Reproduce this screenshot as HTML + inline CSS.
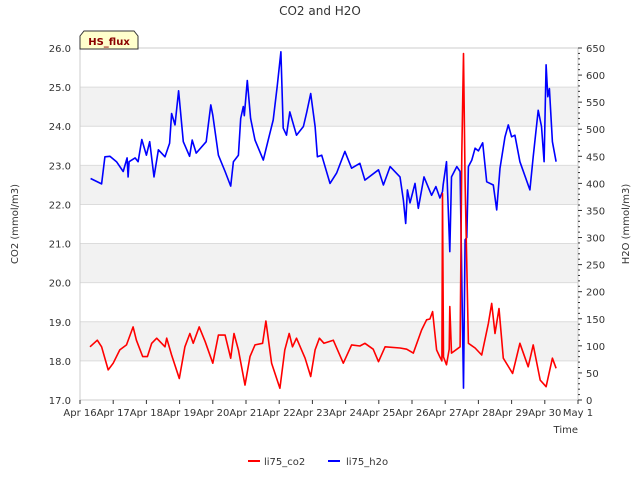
<!DOCTYPE html>
<html><head><meta charset="utf-8"><style>
body{margin:0;background:#fff;}
svg text{font-family:"DejaVu Sans","Liberation Sans",sans-serif;}
</style></head><body>
<svg id="c" width="640" height="480" xmlns="http://www.w3.org/2000/svg"></svg>
<script>
const xTickLabels=["Apr 16","Apr 17","Apr 18","Apr 19","Apr 20","Apr 21","Apr 22","Apr 23","Apr 24","Apr 25","Apr 26","Apr 27","Apr 28","Apr 29","Apr 30","May 1"];
const leftTicks=[17,18,19,20,21,22,23,24,25,26];
const rightTicks=[0,50,100,150,200,250,300,350,400,450,500,550,600,650];
const h2oDays=[0.32,0.65,0.75,0.9,1.1,1.3,1.42,1.45,1.48,1.66,1.75,1.86,2.0,2.1,2.23,2.36,2.56,2.7,2.76,2.86,2.97,3.11,3.3,3.38,3.5,3.8,3.94,4.0,4.17,4.37,4.54,4.62,4.77,4.84,4.92,4.95,5.04,5.14,5.27,5.52,5.67,5.82,5.94,6.05,6.12,6.22,6.32,6.52,6.73,6.83,6.95,7.08,7.15,7.28,7.53,7.73,7.98,8.18,8.43,8.58,8.99,9.14,9.34,9.64,9.74,9.81,9.86,9.94,10.09,10.19,10.36,10.59,10.72,10.84,10.92,10.94,11.04,11.14,11.19,11.35,11.45,11.55,11.6,11.65,11.7,11.8,11.9,12.0,12.13,12.25,12.45,12.55,12.65,12.8,12.9,13.0,13.1,13.25,13.55,13.65,13.8,13.9,13.98,14.04,14.09,14.14,14.23,14.34];
const h2oValues=[409,399,449,450,440,422,447,412,440,447,440,481,452,477,412,462,449,474,529,508,571,477,450,480,456,477,545,526,452,422,395,440,452,520,542,525,590,520,480,443,480,517,579,643,502,489,532,489,505,532,566,505,449,452,400,419,459,428,437,406,425,397,431,412,369,326,388,364,400,354,412,378,394,373,385,398,440,274,412,431,422,22,296,300,431,443,465,460,475,403,397,351,428,486,508,486,489,440,388,449,535,505,440,619,560,575,477,440];
const co2Days=[0.3,0.52,0.65,0.85,1.0,1.2,1.4,1.6,1.7,1.89,2.03,2.16,2.31,2.56,2.61,2.76,2.99,3.16,3.31,3.41,3.59,3.77,4.0,4.17,4.37,4.54,4.64,4.77,4.97,5.12,5.27,5.5,5.6,5.77,6.02,6.17,6.3,6.4,6.52,6.78,6.95,7.08,7.21,7.35,7.63,7.93,8.18,8.43,8.58,8.83,8.99,9.19,9.64,9.84,10.04,10.29,10.44,10.54,10.62,10.74,10.84,10.9,10.92,10.95,11.04,11.12,11.14,11.19,11.45,11.5,11.55,11.6,11.7,11.9,12.1,12.3,12.4,12.5,12.62,12.75,13.03,13.25,13.5,13.65,13.86,14.04,14.23,14.34];
const co2Values=[18.36,18.53,18.36,17.77,17.94,18.28,18.41,18.87,18.53,18.11,18.11,18.45,18.58,18.36,18.58,18.15,17.55,18.36,18.7,18.45,18.87,18.49,17.94,18.66,18.66,18.07,18.7,18.28,17.38,18.11,18.41,18.45,19.02,17.94,17.3,18.28,18.7,18.36,18.58,18.07,17.6,18.28,18.58,18.45,18.53,17.94,18.41,18.38,18.45,18.3,17.98,18.36,18.33,18.3,18.2,18.79,19.05,19.07,19.26,18.28,18.1,18.0,22.28,18.1,17.9,18.3,19.39,18.2,18.36,23.3,25.86,22.58,18.45,18.33,18.15,18.96,19.47,18.7,19.34,18.07,17.68,18.45,17.85,18.41,17.51,17.34,18.07,17.81];

const NS="http://www.w3.org/2000/svg";
const svg=document.getElementById('c');
const L=80,R=578,T=48,B=400;
const xS=d=>L+d*(R-L)/15;
const yL=v=>B-(v-17)*(B-T)/9;
const yR=v=>B-v*(B-T)/650;
function el(t,a,txt){const e=document.createElementNS(NS,t);for(const k in a)e.setAttribute(k,a[k]);if(txt!==undefined)e.textContent=txt;svg.appendChild(e);return e;}

// bands
[18,20,22,24].forEach(v=>{const r=el('rect',{x:L,y:yL(v+1),width:R-L,height:yL(v)-yL(v+1),fill:'#f2f2f2'});

});
leftTicks.forEach(v=>{const g=el('line',{x1:L,x2:R,y1:yL(v),y2:yL(v),stroke:'#dcdcdc','stroke-width':1});


const t=el('text',{x:71,y:yL(v)+4,'text-anchor':'end','font-size':10,fill:'#333'},v.toFixed(1));

});
el('rect',{x:L,y:T,width:R-L,height:B-T,fill:'none',stroke:'#ccc'});
// right ticks
for(let v=0;v<=650;v+=10){const major=v%50===0;el('line',{x1:R,x2:R+(major?4:2),y1:yR(v),y2:yR(v),stroke:'#333'});}
rightTicks.forEach(v=>{const t=el('text',{x:586,y:yR(v)+4,'font-size':10,fill:'#333'},String(v));

});
xTickLabels.forEach((s,i)=>{el('line',{x1:xS(i),x2:xS(i),y1:B,y2:B+4,stroke:'#333'});
const t=el('text',{x:xS(i),y:416,'text-anchor':'middle','font-size':10,fill:'#333'},s);

});
// series
function poly(xs,ys,f,col,name){const p=xs.map((d,i)=>xS(d).toFixed(1)+','+f(ys[i]).toFixed(1)).join(' ');
const e=el('polyline',{points:p,fill:'none',stroke:col,'stroke-width':1.6,'stroke-linejoin':'round'});

}
poly(h2oDays,h2oValues,yR,'#0000ff','series-li75-h2o');
poly(co2Days,co2Values,yL,'#ff0000','series-li75-co2');
// texts
let t=el('text',{x:320,y:15,'text-anchor':'middle','font-size':12,fill:'#333'},'CO2 and H2O');

t=el('text',{x:18,y:224,'text-anchor':'middle','font-size':10,fill:'#333',transform:'rotate(-90 18 224)'},'CO2 (mmol/m3)');

t=el('text',{x:629,y:224,'text-anchor':'middle','font-size':10,fill:'#333',transform:'rotate(-90 629 224)'},'H2O (mmol/m3)');

t=el('text',{x:578,y:433,'text-anchor':'end','font-size':10,fill:'#333'},'Time');

const b=el('polygon',{points:'80,36 84,31 134,31 138,36 138,49 80,49',fill:'#ffffcc',stroke:'#333'});

t=el('text',{x:109,y:45,'text-anchor':'middle','font-size':10,'font-weight':'bold',fill:'#8b0000'},'HS_flux');

// legend
el('line',{x1:248,x2:260,y1:461,y2:461,stroke:'#ff0000','stroke-width':2});
t=el('text',{x:264,y:465,'font-size':10,fill:'#333'},'li75_co2');

el('line',{x1:328,x2:340,y1:461,y2:461,stroke:'#0000ff','stroke-width':2});
t=el('text',{x:346,y:465,'font-size':10,fill:'#333'},'li75_h2o');

</script>
</body></html>
